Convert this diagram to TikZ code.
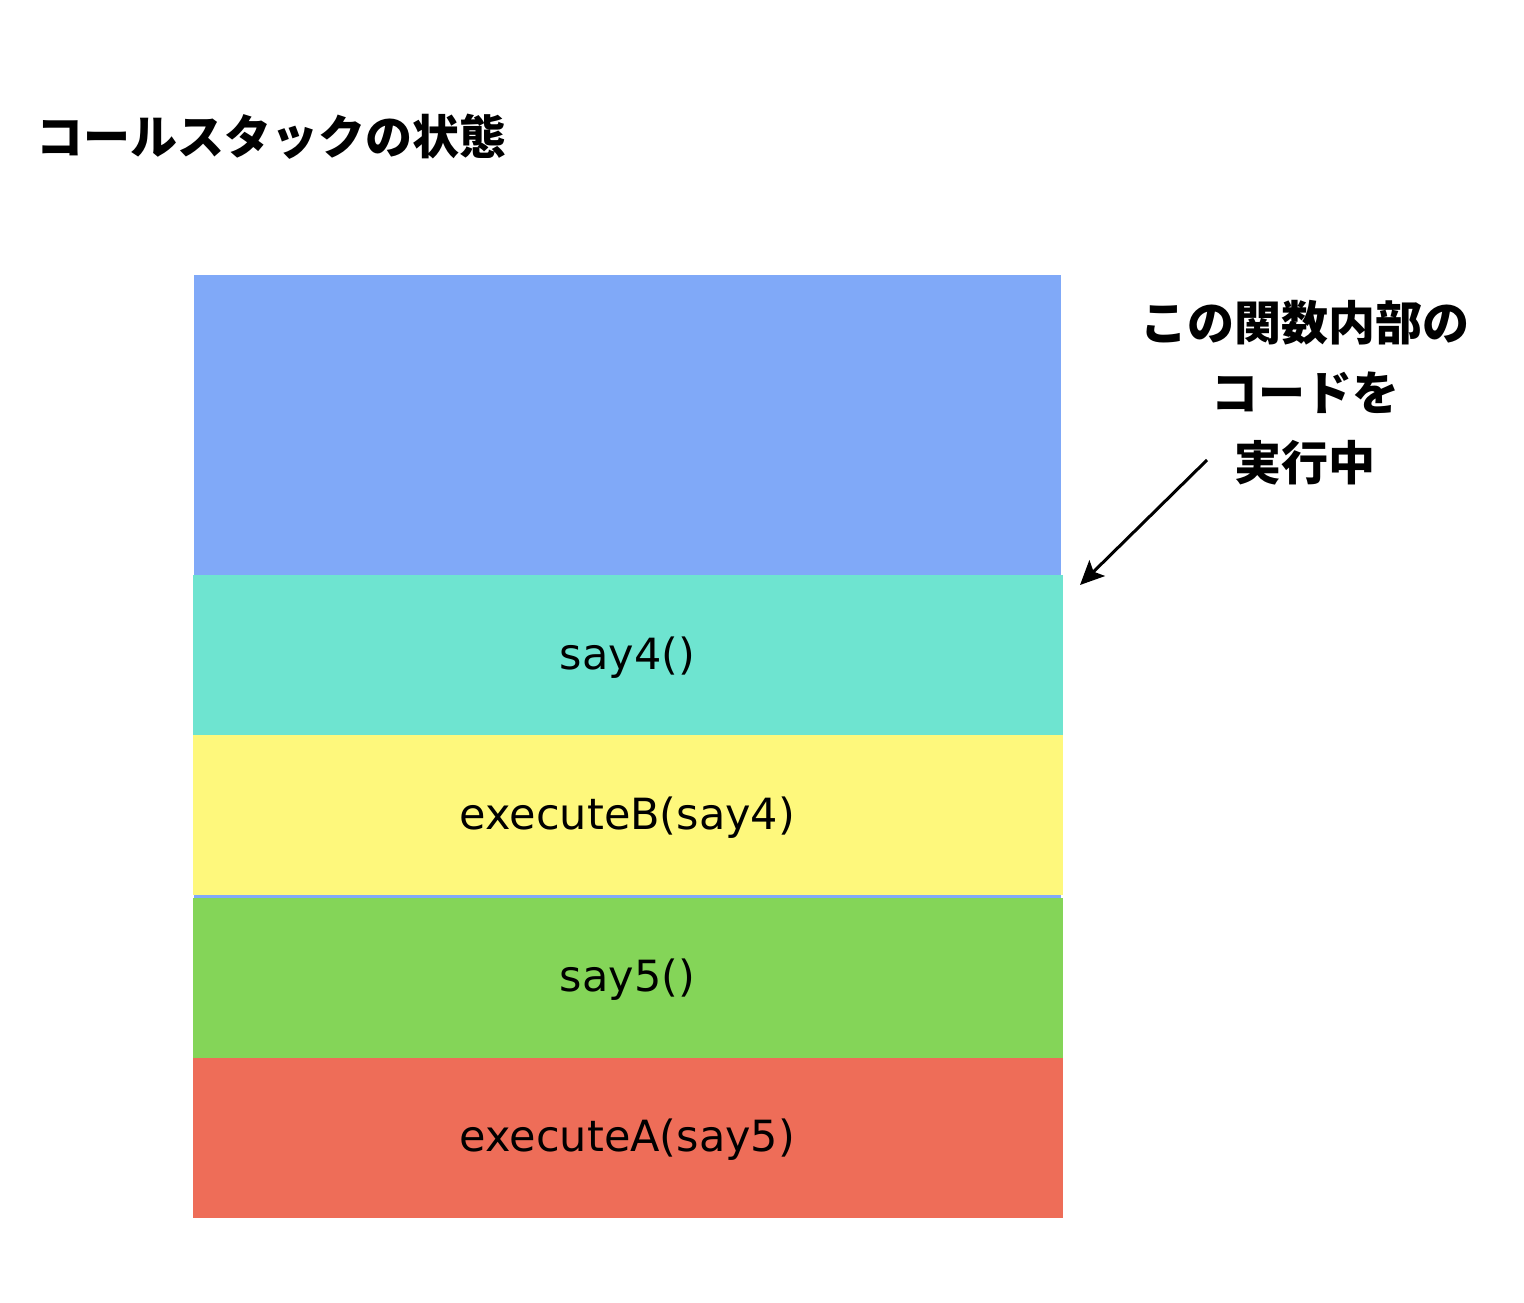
\documentclass[tikz,border=0pt]{standalone}
\usepackage{fontspec}
\setmainfont{Noto Sans CJK JP}
\newfontfamily\labelfont{DejaVu Sans}
\usetikzlibrary{arrows.meta}
\definecolor{stackblue}{HTML}{80A9F8}
\definecolor{stackteal}{HTML}{6EE4D0}
\definecolor{stackyellow}{HTML}{FEF87C}
\definecolor{stackgreen}{HTML}{84D558}
\definecolor{stackred}{HTML}{EE6D58}

\begin{document}
\begin{tikzpicture}[x=1pt, y=-1pt,
    frame/.style={inner sep=0pt, outer sep=0pt, minimum width=870pt, minimum height=160pt,
      text depth=4pt, font=\labelfont\fontsize{43}{48}\selectfont},
    heading/.style={font=\bfseries\fontsize{47}{70}\selectfont}]
  \useasboundingbox (0,0) rectangle (1524,1302);
  \node[heading, anchor=west] (title) at (33,137) {コールスタックの状態};
  \node[fill=stackblue, inner sep=0pt, minimum width=867pt, minimum height=940pt, anchor=north west] (top) at (194,275) {};
  \foreach \y/\c/\t/\n in {655/stackteal/say4()/f1, 815/stackyellow/executeB(say4)/f2,
      977.5/stackgreen/say5()/f3, 1137.5/stackred/executeA(say5)/f4} {
    \node[frame, fill=\c] (\n) at (627.5,\y) {\t};
  }
  \node[heading, align=center] (note) at (1305,393) {この関数内部の\\コードを\\実行中};
  \coordinate (from) at (1207,460);
  \coordinate (to) at (1080,585);
  \draw[-{Stealth[length=24pt, width=22pt, inset=5pt]}, line width=3pt] (from) -- (to);
\end{tikzpicture}
\end{document}
